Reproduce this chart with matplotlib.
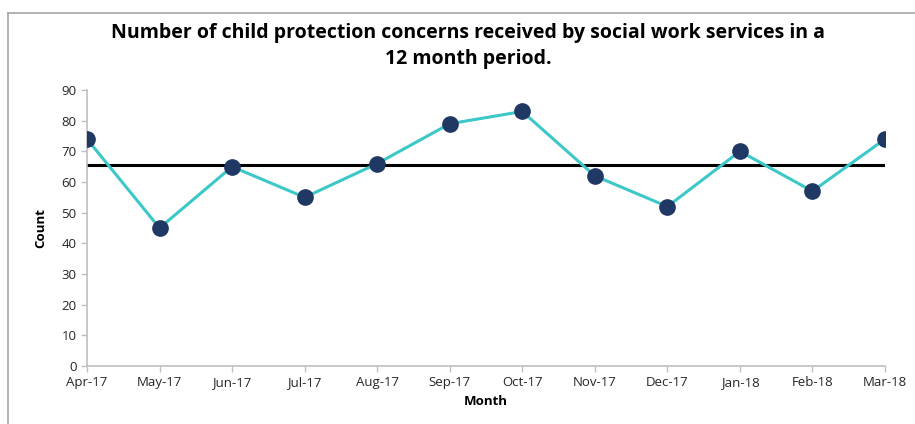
import matplotlib.pyplot as plt
from matplotlib.lines import Line2D

months = ['Apr-17', 'May-17', 'Jun-17', 'Jul-17', 'Aug-17', 'Sep-17',
          'Oct-17', 'Nov-17', 'Dec-17', 'Jan-18', 'Feb-18', 'Mar-18']
counts = [74, 45, 65, 55, 66, 79, 83, 62, 52, 70, 57, 74]
mean_count = 65.5
y_ticks = [0, 10, 20, 30, 40, 50, 60, 70, 80, 90]

plt.rcParams['font.family'] = ['Open Sans', 'DejaVu Sans']

fig = plt.figure(figsize=(9.15, 4.24), dpi=100)
ax = fig.add_axes([0.0951, 0.1368, 0.8721, 0.6509])

x = list(range(len(months)))
ax.plot(x, counts, color='#3CC8C8', linewidth=2.2, marker='o',
        markersize=11, markerfacecolor='#1F3864', markeredgecolor='#1F3864',
        zorder=3)
ax.plot([x[0], x[-1]], [mean_count, mean_count], color='black', linewidth=2.2, zorder=2)

ax.set_xlim(0, len(months) - 1)
ax.set_ylim(0, 90)
ax.set_xticks(x)
ax.set_xticklabels(months, fontsize=9.5, color='#262626')
ax.set_yticks(y_ticks)
ax.set_yticklabels([str(v) for v in y_ticks], fontsize=9.5, color='#262626')
ax.tick_params(axis='both', color='#BFBFBF', length=4, width=1)

for s in ['top', 'right']:
    ax.spines[s].set_visible(False)
for s in ['left', 'bottom']:
    ax.spines[s].set_color('#BFBFBF')
    ax.spines[s].set_linewidth(1.2)
for lbl in ax.get_xticklabels() + ax.get_yticklabels():
    lbl.set_clip_on(False)

ax.set_xlabel('Month', fontsize=9.5, fontweight='bold', labelpad=4)
ax.set_ylabel('Count', fontsize=9.5, fontweight='bold', labelpad=10)

fig.text(0.512, 0.923, 'Number of child protection concerns received by social work services in a',
         ha='center', va='center', fontsize=14, fontweight='bold')
fig.text(0.512, 0.861, '12 month period.',
         ha='center', va='center', fontsize=14, fontweight='bold')

# chart border (left and top)
fig.add_artist(Line2D([8 / 915, 8 / 915], [0, 1 - 13 / 424], transform=fig.transFigure,
                      color='#A6A6A6', linewidth=1.2))
fig.add_artist(Line2D([8 / 915, 1], [1 - 13 / 424, 1 - 13 / 424], transform=fig.transFigure,
                      color='#A6A6A6', linewidth=1.2))

fig.savefig('out.png', dpi=100)
